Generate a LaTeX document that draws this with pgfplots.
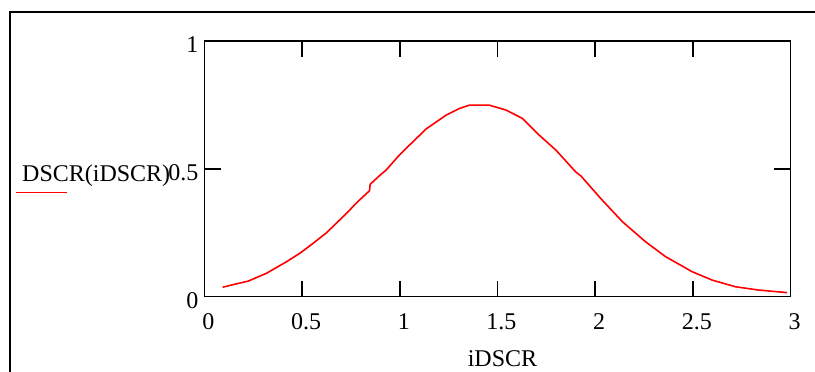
\documentclass[border=0pt]{standalone}
\usepackage{pgfplots}
\pgfplotsset{compat=1.18}
\usepackage{fontspec}
\setmainfont{Liberation Serif}
\begin{document}
\begin{tikzpicture}[x=1pt,y=1pt]
\path[use as bounding box] (-204.5,-75.3) rectangle (610.5,296.7);
\begin{axis}[
  scale only axis,
  width=586pt, height=255.4pt,
  xmin=0, xmax=3, ymin=0, ymax=1,
  xtick={0,0.5,1,1.5,2,2.5,3},
  ytick={0,0.5,1},
  axis line style={line width=1.6pt},
  tick style={black, line width=1.4pt},
  major tick length=16pt,
  tick align=inside,
  xtick pos=both, ytick pos=both,
  /pgf/number format/assume math mode=true,
  ticklabel style={font=\fontsize{24}{28}\selectfont},
  xticklabel style={inner sep=0pt, anchor=north, yshift=-16.6pt, xshift=4pt},
  yticklabel style={inner sep=0pt, anchor=east, xshift=-6pt, yshift=-3.5pt},
  clip=false,
]
\addplot[red, line width=1.6pt] coordinates {
(0.093,0.037) (0.15,0.048) (0.224,0.061) (0.318,0.092) (0.42,0.137)
(0.488,0.170) (0.556,0.209) (0.624,0.250) (0.709,0.313) (0.794,0.379)
(0.845,0.415) (0.848,0.440) (0.896,0.474) (0.93,0.496) (0.99,0.548)
(1.05,0.594) (1.135,0.657) (1.237,0.711) (1.305,0.737) (1.356,0.750)
(1.458,0.750) (1.543,0.731) (1.628,0.698) (1.713,0.633) (1.799,0.574)
(1.90,0.489) (1.928,0.472) (2.028,0.385) (2.139,0.294) (2.258,0.215)
(2.36,0.157) (2.496,0.098) (2.599,0.065) (2.718,0.039) (2.837,0.026)
(2.982,0.016)
};
\end{axis}
\node[anchor=base west, inner sep=0pt, font=\fontsize{24}{28}\selectfont] at (-182.5,115) {DSCR(iDSCR)};
\draw[red, line width=1.6pt] (-188.5,104) -- (-137.5,104);
\node[anchor=base, inner sep=0pt, font=\fontsize{24}{28}\selectfont] at (298,-69.5) {iDSCR};
\draw[black, line width=1.8pt] (-194.5,-90) -- (-194.5,284.7) -- (630,284.7);
\end{tikzpicture}
\end{document}
